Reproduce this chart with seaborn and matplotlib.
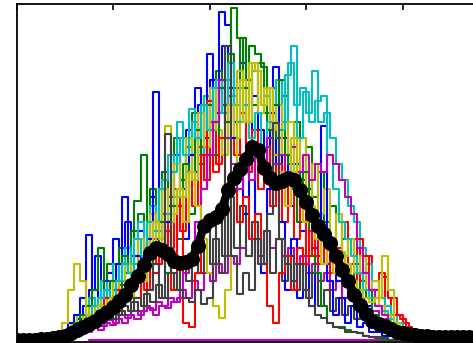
import numpy as np
import pandas as pd
import matplotlib
matplotlib.use("Agg")
import matplotlib.pyplot as plt
import seaborn as sns

# sample index grids for the two groups of traces
sample_x = list(range(6, 69))
sample_x2 = [v + 0.5 for v in range(6, 69)]

trace_blue = [0, 0.3, 1, 2, 3, 5, 12.5, 6, 4, 7, 5, 9, 17, 8, 10, 7, 12, 29.5, 10, 14,
              9, 16, 12, 22, 30, 18, 34, 26, 39, 37.5, 24, 20, 15, 22, 12, 8, 18, 32.5, 14, 6,
              12, 5, 9, 4, 10, 25.5, 7, 3, 5, 2, 4, 1.5, 2, 1, 1, 0.5, 0.5, 0.3, 0.2, 0,
              0, 0, 0]
trace_green = [0, 0.2, 0.5, 1, 2, 3, 4, 6, 11, 5, 7, 6, 10, 8, 16.5, 22, 11, 9, 14, 8,
               16, 12, 21, 15, 25, 18, 28, 22, 30, 26, 39.5, 36, 30, 35, 34, 32.5, 25, 28, 31, 22,
               18, 14, 20, 10, 8, 4, 2, 1.5, 1.5, 1.2, 1, 0.8, 0.5, 0.3, 0.2, 0, 0, 0, 0, 0,
               0, 0, 0]
trace_red = [0, 0, 0.3, 0.8, 1.5, 2, 3, 4, 3, 5, 4, 6, 4.5, 7, 5, 9, 6, 8, 10, 13,
             6, 16, 2, 1.5, 8, 22, 28.5, 20, 24, 17, 19, 14, 17, 12, 15, 9, 4, 2, 8, 10,
             6, 11, 9, 13, 10, 12, 11, 8, 9, 7, 6, 12, 10, 6, 5, 7.5, 5, 3, 2.5, 1.5,
             1, 0.5, 0.2]
trace_cyan = [0, 0, 0.2, 0.5, 1, 2, 3, 4, 5, 6, 4, 7, 9, 8, 12, 10, 14, 13, 18, 15,
              20, 26, 22, 27.5, 24, 28, 25, 30, 27, 31, 29, 26, 28, 24, 27, 23, 26, 22, 25, 31.5,
              35, 24, 29.5, 26, 28.5, 29, 22, 18, 14, 12, 10, 8, 6, 5, 4, 3.5, 2.5, 2, 1.5, 1,
              0.5, 0.3, 0]
trace_magenta = [0, 0, 0, 0.2, 0.5, 0.8, 1, 1.5, 1.2, 2, 1.8, 2.5, 2, 3, 2.5, 3.5, 3.8, 3, 4, 3.8,
                 4.5, 5, 8, 10, 14, 18, 22, 26, 31, 24, 21, 18, 22, 19, 23, 20, 24, 21, 22, 19,
                 23, 20, 22, 19, 21, 20, 22, 21, 19, 17, 15, 11, 8, 6, 4, 3, 2, 1.5, 1, 0.5,
                 0.2, 0, 0]
trace_yellow = [0, 0.5, 2, 6, 9, 7, 3, 2, 4, 3, 5, 4, 6, 5, 8, 7, 10, 14, 12, 25.5,
                15, 18, 14, 20, 16, 12, 8, 4, 2.6, 6, 20, 32, 26, 33, 32, 28, 30, 22, 20, 16,
                24, 18, 14, 16, 12, 9, 11, 8, 10.5, 9, 7, 6, 5, 4.5, 5, 10, 6, 2, 1, 0.5,
                0.2, 0, 0]
trace_gray = [0, 0, 0.2, 0.5, 1, 1.5, 2, 2.5, 2, 3, 2.5, 3, 4, 3.5, 5, 4, 6, 9, 5, 24.5,
              8, 6, 5, 4.5, 6, 4.3, 5, 12, 8, 35, 10, 5.5, 8, 6, 12, 9, 15, 25.8, 12, 9,
              7, 9, 6, 4, 3, 2.6, 2, 1.5, 1.4, 1, 1, 0.8, 0.5, 0.4, 0.3, 0.2, 0, 0, 0, 0,
              0, 0, 0]

trace_blue2 = [0, 0, 0.5, 1.5, 2.5, 4, 6, 10, 5, 8, 12, 7, 14, 10, 13, 9, 17, 12, 20, 16,
               22, 18, 25, 20, 28, 24, 31, 27, 35, 30, 26, 33, 22, 29, 25, 21, 27, 19, 24, 16,
               21, 13, 18, 11, 15, 9, 12, 7, 9, 5, 6, 3, 4, 2, 1.5, 1, 0.6, 0.3, 0.2, 0,
               0, 0, 0]
trace_green2 = [0, 0.2, 0.8, 1.5, 3, 2, 5, 4, 7, 9, 6, 11, 8, 13, 15, 11, 18, 14, 20, 17,
                24, 19, 23, 27, 21, 29, 25, 32, 28, 34, 30, 36, 31, 28, 33, 27, 30, 24, 29, 21,
                26, 19, 23, 17, 20, 14, 16, 10, 12, 7, 9, 5, 6, 3, 2, 1.5, 1, 0.5, 0.3, 0,
                0, 0, 0]
trace_red2 = [0, 0, 0.2, 0.5, 1, 2.5, 1.5, 3.5, 2.5, 5, 3.5, 6.5, 5, 8, 10, 6, 12, 9, 15, 11,
              18, 13, 20, 16, 23, 19, 26, 21, 24, 29, 22, 27, 20, 25, 18, 23, 16, 21, 14, 19,
              12, 17, 10, 15, 9, 13, 8, 11, 14, 9, 12, 7, 10, 6, 8, 4, 5, 3, 2, 1.2,
              0.8, 0.4, 0.1]
trace_cyan2 = [0, 0, 0.3, 0.8, 1.5, 3, 5, 3.5, 7, 5, 9, 7, 11, 9, 14, 11, 16, 13, 19, 22,
               17, 24, 20, 26, 22, 29, 25, 31, 27, 33, 28, 30, 26, 32, 27, 29, 25, 31, 26, 33,
               28, 30, 27, 32, 26, 27, 24, 21, 19, 16, 14, 11, 9, 7, 5, 4, 3, 2, 1.2, 0.8,
               0.4, 0.2, 0]
trace_magenta2 = [0, 0, 0, 0.3, 0.6, 1, 1.4, 2, 1.6, 2.4, 2, 3, 2.6, 3.5, 3, 4, 3.6, 4.5, 4, 5,
                  4.5, 6, 5, 7, 6, 8, 7, 9, 8, 10, 9, 11, 10, 12, 10, 13, 11, 12, 10, 11,
                  9, 10, 8, 9, 7, 8, 6, 7, 5, 6, 4, 4.5, 3, 3.5, 2, 2.5, 1.5, 1, 0.6, 0.3,
                  0.1, 0, 0]
trace_yellow2 = [0, 0.3, 1, 2, 3, 2, 4, 3, 5, 4, 7, 5, 9, 7, 12, 9, 15, 11, 18, 14,
                 21, 17, 24, 19, 27, 23, 30, 25, 22, 28, 24, 31, 26, 33, 27, 30, 25, 28, 22, 26,
                 20, 24, 17, 21, 15, 18, 12, 15, 10, 12, 8, 10, 6, 7, 4, 3, 2, 1.2, 0.8, 0.4,
                 0.2, 0, 0]
trace_gray2 = [0, 0, 0.2, 0.4, 0.8, 1.2, 1.8, 2.5, 2, 3, 2.5, 3.5, 3, 4.5, 3.5, 5.5, 4.5, 6.5, 5, 8,
               6, 9, 7, 11, 8, 13, 9, 15, 10, 17, 11, 16, 10, 14, 9, 13, 8, 12, 7, 10,
               6, 9, 5, 8, 4, 6, 3.5, 5, 3, 4, 2.5, 3, 2, 2, 1.5, 1.2, 1, 0.6, 0.3, 0.2,
               0, 0, 0]

flat_x = [12, 62]
flat_magenta = [0, 0]

mean_x = list(range(0, 79))
mean_y = [0, 0, 0, 0, 0.1, 0.1, 0.2, 0.3, 0.5, 0.8, 1.2, 1.5, 1.9, 2.3, 2.8, 3.3, 3.9, 4.6,
          5.4, 6.5, 7.6, 8.9, 10.3, 10.9, 10.7, 10.2, 9.4, 9.1, 9.3, 9.6, 11.2, 13.6, 14.3,
          14.6, 15.6, 17.8, 19.3, 20.3, 21.6, 23.0, 22.6, 20.5, 19.3, 18.7, 18.9, 19.3, 19.1,
          17.8, 16.4, 14.9, 13.6, 12.6, 11.5, 10.0, 8.3, 7.0, 5.4, 4.2, 3.1, 2.3, 1.9, 1.6,
          1.3, 1.0, 0.85, 0.75, 0.6, 0.5, 0.45, 0.4, 0.38, 0.35, 0.33, 0.3, 0.3, 0.3, 0.3,
          0.3, 0.3]

colors = {
    "blue": (0, 0, 1), "green": (0, 0.5, 0), "red": (1, 0, 0), "cyan": (0, 0.75, 0.75),
    "magenta": (0.75, 0, 0.75), "yellow": (0.75, 0.75, 0), "gray": (0.25, 0.25, 0.25),
}
traces = [
    ("magenta2", sample_x2, trace_magenta2), ("gray2", sample_x2, trace_gray2),
    ("blue2", sample_x2, trace_blue2), ("green2", sample_x2, trace_green2),
    ("red2", sample_x2, trace_red2), ("cyan2", sample_x2, trace_cyan2),
    ("yellow2", sample_x2, trace_yellow2),
    ("blue", sample_x, trace_blue), ("green", sample_x, trace_green),
    ("red", sample_x, trace_red), ("cyan", sample_x, trace_cyan),
    ("magenta", sample_x, trace_magenta), ("yellow", sample_x, trace_yellow),
    ("gray", sample_x, trace_gray),
]
palette = {name: colors[name.rstrip("2")] for name, _, _ in traces}

rows = []
for name, xs, vals in traces:
    for xv, yv in zip(xs, vals):
        rows.append({"trace": name, "x": xv, "y": yv})
df = pd.DataFrame(rows)

sns.set_style("white")
fig = plt.figure(figsize=(4.73, 3.43), dpi=100)
ax = fig.add_axes([17 / 473, 1 / 343, 482 / 473, 338 / 343])

sns.lineplot(x=flat_x, y=flat_magenta, color=(0.75, 0, 0.75), lw=1.6, ax=ax)
sns.lineplot(data=df, x="x", y="y", hue="trace", hue_order=[t[0] for t in traces],
             palette=palette, estimator=None, units="trace", sort=False, legend=False,
             lw=1.5, drawstyle="steps-mid", ax=ax)
sns.lineplot(x=mean_x, y=mean_y, color="black", lw=6, marker="o", markersize=10,
             markeredgecolor="black", sort=False, ax=ax)

ax.set_xlim(0, 80)
ax.set_ylim(-0.25, 40)
ax.set_xticks([0, 16, 32, 48, 64, 80])
ax.set_yticks([0, 10, 20, 30, 40])
ax.tick_params(direction="in", length=4, width=1.2, top=True, right=True,
               labelbottom=False, labelleft=False, colors="black")
for s in ax.spines.values():
    s.set_linewidth(1.3)
    s.set_color("black")
ax.set_xlabel("")
ax.set_ylabel("")

fig.savefig("out.png", dpi=100)
